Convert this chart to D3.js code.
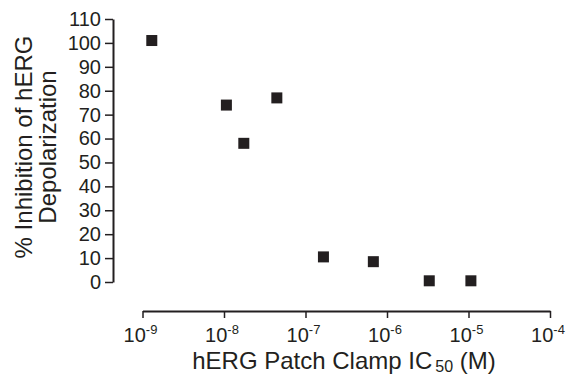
<!DOCTYPE html>
<html>
<head>
<meta charset="utf-8">
<script src="https://cdn.jsdelivr.net/npm/d3@7"></script>
<style>
  body { margin: 0; background: #fff; }
  svg { font-family: "Liberation Sans", Arial, sans-serif; }
</style>
</head>
<body>
<svg id="chart" width="568" height="375"></svg>
<script>
// IC50 (M) vs % inhibition
const ic50 = [1.3e-9, 1.07e-8, 1.75e-8, 4.45e-8, 1.66e-7, 6.8e-7, 3.3e-6, 1.07e-5];
const inhibition = [101, 74, 58, 77, 10.5, 8.5, 0.5, 0.5];
const yTicks = [0, 10, 20, 30, 40, 50, 60, 70, 80, 90, 100, 110];
const xTickExps = [-9, -8, -7, -6, -5, -4];

const svg = d3.select("#chart");
const ink = "#231f20";

const x = d3.scaleLog().domain([1e-9, 1e-4]).range([142.5, 550]);
const y = d3.scaleLinear().domain([0, 110]).range([282, 19]);

// y axis
const yAxis = svg.append("g")
    .attr("transform", "translate(113,0)")
    .call(d3.axisLeft(y).tickValues(yTicks).tickSize(8).tickSizeOuter(0).tickPadding(4));
yAxis.select(".domain").attr("stroke", ink).attr("stroke-width", 2);
yAxis.selectAll(".tick line").attr("stroke", ink).attr("stroke-width", 1.5);
yAxis.selectAll(".tick text")
    .attr("font-size", "20px")
    .attr("fill", ink)
    .attr("font-family", "Liberation Sans, Arial, sans-serif");

// x axis
const xAxis = svg.append("g")
    .attr("transform", "translate(0,311)")
    .call(d3.axisBottom(x).tickValues(xTickExps.map(e => Math.pow(10, e)))
        .tickSize(7).tickSizeOuter(0).tickFormat(""));
xAxis.select(".domain").attr("stroke", ink).attr("stroke-width", 2);
xAxis.selectAll(".tick line").attr("stroke", ink).attr("stroke-width", 1.5);

const xl = svg.append("g").selectAll("text")
    .data(xTickExps)
    .join("text")
    .attr("x", d => x(Math.pow(10, d)) - 2)
    .attr("y", 342)
    .attr("text-anchor", "middle")
    .attr("font-size", "20px")
    .attr("fill", ink);
xl.append("tspan").text("10");
xl.append("tspan").attr("dy", -8).attr("font-size", "13px").text(d => d);

// axis titles
const xt = svg.append("text")
    .attr("x", 344)
    .attr("y", 369)
    .attr("text-anchor", "middle")
    .attr("font-size", "24px")
    .attr("fill", ink);
xt.append("tspan").text("hERG Patch Clamp IC");
xt.append("tspan").attr("dx", 3).attr("dy", 3).attr("font-size", "16px").text("50");
xt.append("tspan").attr("dy", -3).text(" (M)");

const yt = svg.append("text")
    .attr("transform", "translate(0,147) rotate(-90)")
    .attr("text-anchor", "middle")
    .attr("font-size", "24px")
    .attr("fill", ink);
yt.append("tspan").attr("x", 0).attr("y", 32).text("% Inhibition of hERG");
yt.append("tspan").attr("x", 0).attr("y", 56).text("Depolarization");

// points
const s = 11;
svg.append("g").selectAll("rect")
    .data(ic50.map((v, i) => [v, inhibition[i]]))
    .join("rect")
    .attr("x", d => x(d[0]) - s / 2)
    .attr("y", d => y(d[1]) - s / 2)
    .attr("width", s)
    .attr("height", s)
    .attr("fill", ink);
</script>
</body>
</html>
